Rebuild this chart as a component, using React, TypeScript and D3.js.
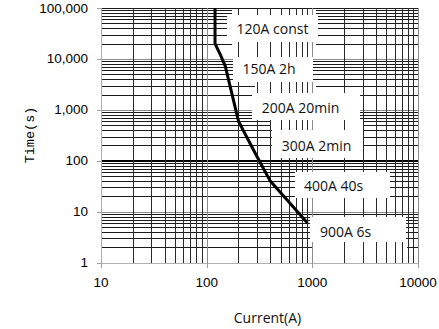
import React from "react";
import * as d3 from "d3";

// ---- data ----
const curveCurrent = [120, 120, 135, 150, 200, 300, 400, 900];
const curveTime = [100000, 20000, 12000, 7200, 600, 120, 40, 6];
const xTickValues = [10, 100, 1000, 10000];
const xTickLabels = ["10", "100", "1000", "10000"];
const yTickValues = [1, 10, 100, 1000, 10000, 100000];
const yTickLabels = ["1", "10", "100", "1,000", "10,000", "100,000"];
const labelTexts = ["120A const", "150A 2h", "200A 20min", "300A 2min", "400A 40s", "900A 6s"];

// ---- layout ----
const W = 439, H = 329;
const X0 = 101, X1 = 418, Y0 = 262.7, Y1 = 8;
const boxes = [
  { x0: 227, x1: 318, y0: 15, y1: 42, tx: 272.5, ty: 33.5 },
  { x0: 233, x1: 313, y0: 57, y1: 82, tx: 269, ty: 73.5 },
  { x0: 252, x1: 360, y0: 93, y1: 120, tx: 300.5, ty: 112.5 },
  { x0: 272, x1: 363, y0: 130, y1: 158, tx: 316.5, ty: 150.5 },
  { x0: 295, x1: 390, y0: 172, y1: 198, tx: 333.5, ty: 190.5 },
  { x0: 310, x1: 406, y0: 217, y1: 242, tx: 345.5, ty: 236.5 },
];
const masks = [
  { x0: 232, x1: 316, y0: 9, y1: 57 },
  { x0: 255, x1: 316, y0: 82, y1: 93 },
  { x0: 270, x1: 363, y0: 120, y1: 130 },
  { x0: 312, x1: 407, y0: 242, y1: 251 },
];

export default function App() {
  const x = d3.scaleLog().domain([10, 10000]).range([X0, X1]);
  const y = d3.scaleLog().domain([1, 100000]).range([Y0, Y1]);

  const hLines: { v: number; major: boolean }[] = [];
  for (let e = 0; e <= 4; e++) {
    for (let k = 1; k <= 9; k++) hLines.push({ v: k * Math.pow(10, e), major: k === 1 });
  }
  hLines.push({ v: 100000, major: true });
  const vLines: { v: number; major: boolean }[] = [];
  for (let e = 1; e <= 3; e++) {
    for (let k = 1; k <= 9; k++) vLines.push({ v: k * Math.pow(10, e), major: k === 1 });
  }
  vLines.push({ v: 10000, major: true });

  const line = d3
    .line<number>()
    .x((_, i) => x(curveCurrent[i]))
    .y((_, i) => y(curveTime[i]));
  const pathD = line(curveTime as any) || "";

  const r = (v: number) => Math.round(v) + 0.5;
  const labelFont = "'Open Sans', 'Noto Sans', sans-serif";

  return (
    <svg width={W} height={H} style={{ position: "absolute", left: 0, top: 0, background: "#fff" }}>
      <rect x={0} y={0} width={W} height={H} fill="#fff" />
      {/* horizontal grid */}
      <g shapeRendering="crispEdges">
        {hLines.map((h, i) => {
          const yy = r(y(h.v));
          const isHundred = h.v === 100;
          return (
            <line
              key={"h" + i}
              x1={X0}
              x2={X1}
              y1={isHundred ? Math.round(y(h.v)) : yy}
              y2={isHundred ? Math.round(y(h.v)) : yy}
              stroke={isHundred ? "#000" : h.major && h.v !== 100000 ? "#8c8c8c" : "#1a1a1a"}
              strokeWidth={isHundred ? 2 : 1}
            />
          );
        })}
      </g>
      {/* masks hiding horizontal lines */}
      {masks.map((m, i) => (
        <rect key={"m" + i} x={m.x0} y={m.y0} width={m.x1 - m.x0} height={m.y1 - m.y0} fill="#fff" />
      ))}
      {/* vertical grid */}
      <g shapeRendering="crispEdges">
        {vLines.map((v, i) => (
          <line
            key={"v" + i}
            x1={r(x(v.v))}
            x2={r(x(v.v))}
            y1={Y1}
            y2={Y0}
            stroke={v.major ? "#8c8c8c" : "#2a2a2a"}
            strokeWidth={1}
          />
        ))}
      </g>
      {/* label boxes */}
      {boxes.map((b, i) => (
        <g key={"b" + i}>
          <rect x={b.x0} y={b.y0} width={b.x1 - b.x0} height={b.y1 - b.y0} fill="#fff" />
          <text x={b.tx} y={b.ty} textAnchor="middle" fontFamily={labelFont} fontSize={14} fill="#111">
            {labelTexts[i]}
          </text>
        </g>
      ))}
      {/* axes */}
      <g shapeRendering="crispEdges">
        <line x1={r(X0)} x2={r(X0)} y1={Y1} y2={Y0 + 1} stroke="#b0b0b0" strokeWidth={1.5} />
        <line x1={X0} x2={X1 + 1} y1={r(Y0)} y2={r(Y0)} stroke="#b0b0b0" strokeWidth={1.5} />
        {yTickValues.map((v, i) => (
          <line key={"yt" + i} x1={X0 - 4} x2={X0} y1={r(y(v))} y2={r(y(v))} stroke="#a0a0a0" />
        ))}
        {xTickValues.map((v, i) => (
          <line key={"xt" + i} x1={r(x(v))} x2={r(x(v))} y1={Y0} y2={Y0 + 5} stroke="#a0a0a0" />
        ))}
      </g>
      {yTickValues.map((v, i) => (
        <text
          key={"yl" + i}
          x={88}
          y={y(v) + 4.5}
          textAnchor="end"
          fontFamily="'Liberation Sans', Arial, sans-serif"
          fontSize={13.5}
          fill="#000"
        >
          {yTickLabels[i]}
        </text>
      ))}
      {xTickValues.map((v, i) => (
        <text
          key={"xl" + i}
          x={x(v)}
          y={287}
          textAnchor="middle"
          fontFamily="'Liberation Sans', Arial, sans-serif"
          fontSize={13.5}
          fill="#000"
        >
          {xTickLabels[i]}
        </text>
      ))}
      {/* curve */}
      <path d={pathD} fill="none" stroke="#000" strokeWidth={3} strokeLinejoin="round" />
      {/* axis titles */}
      <text
        transform={`translate(34,135) rotate(-90)`}
        textAnchor="middle"
        fontFamily="'Liberation Mono', 'DejaVu Sans Mono', monospace"
        fontSize={13.5}
        fill="#000"
      >
        Time(s)
      </text>
      <text x={267.5} y={323} textAnchor="middle" fontFamily={labelFont} fontSize={14} fill="#111">
        Current(A)
      </text>
    </svg>
  );
}
